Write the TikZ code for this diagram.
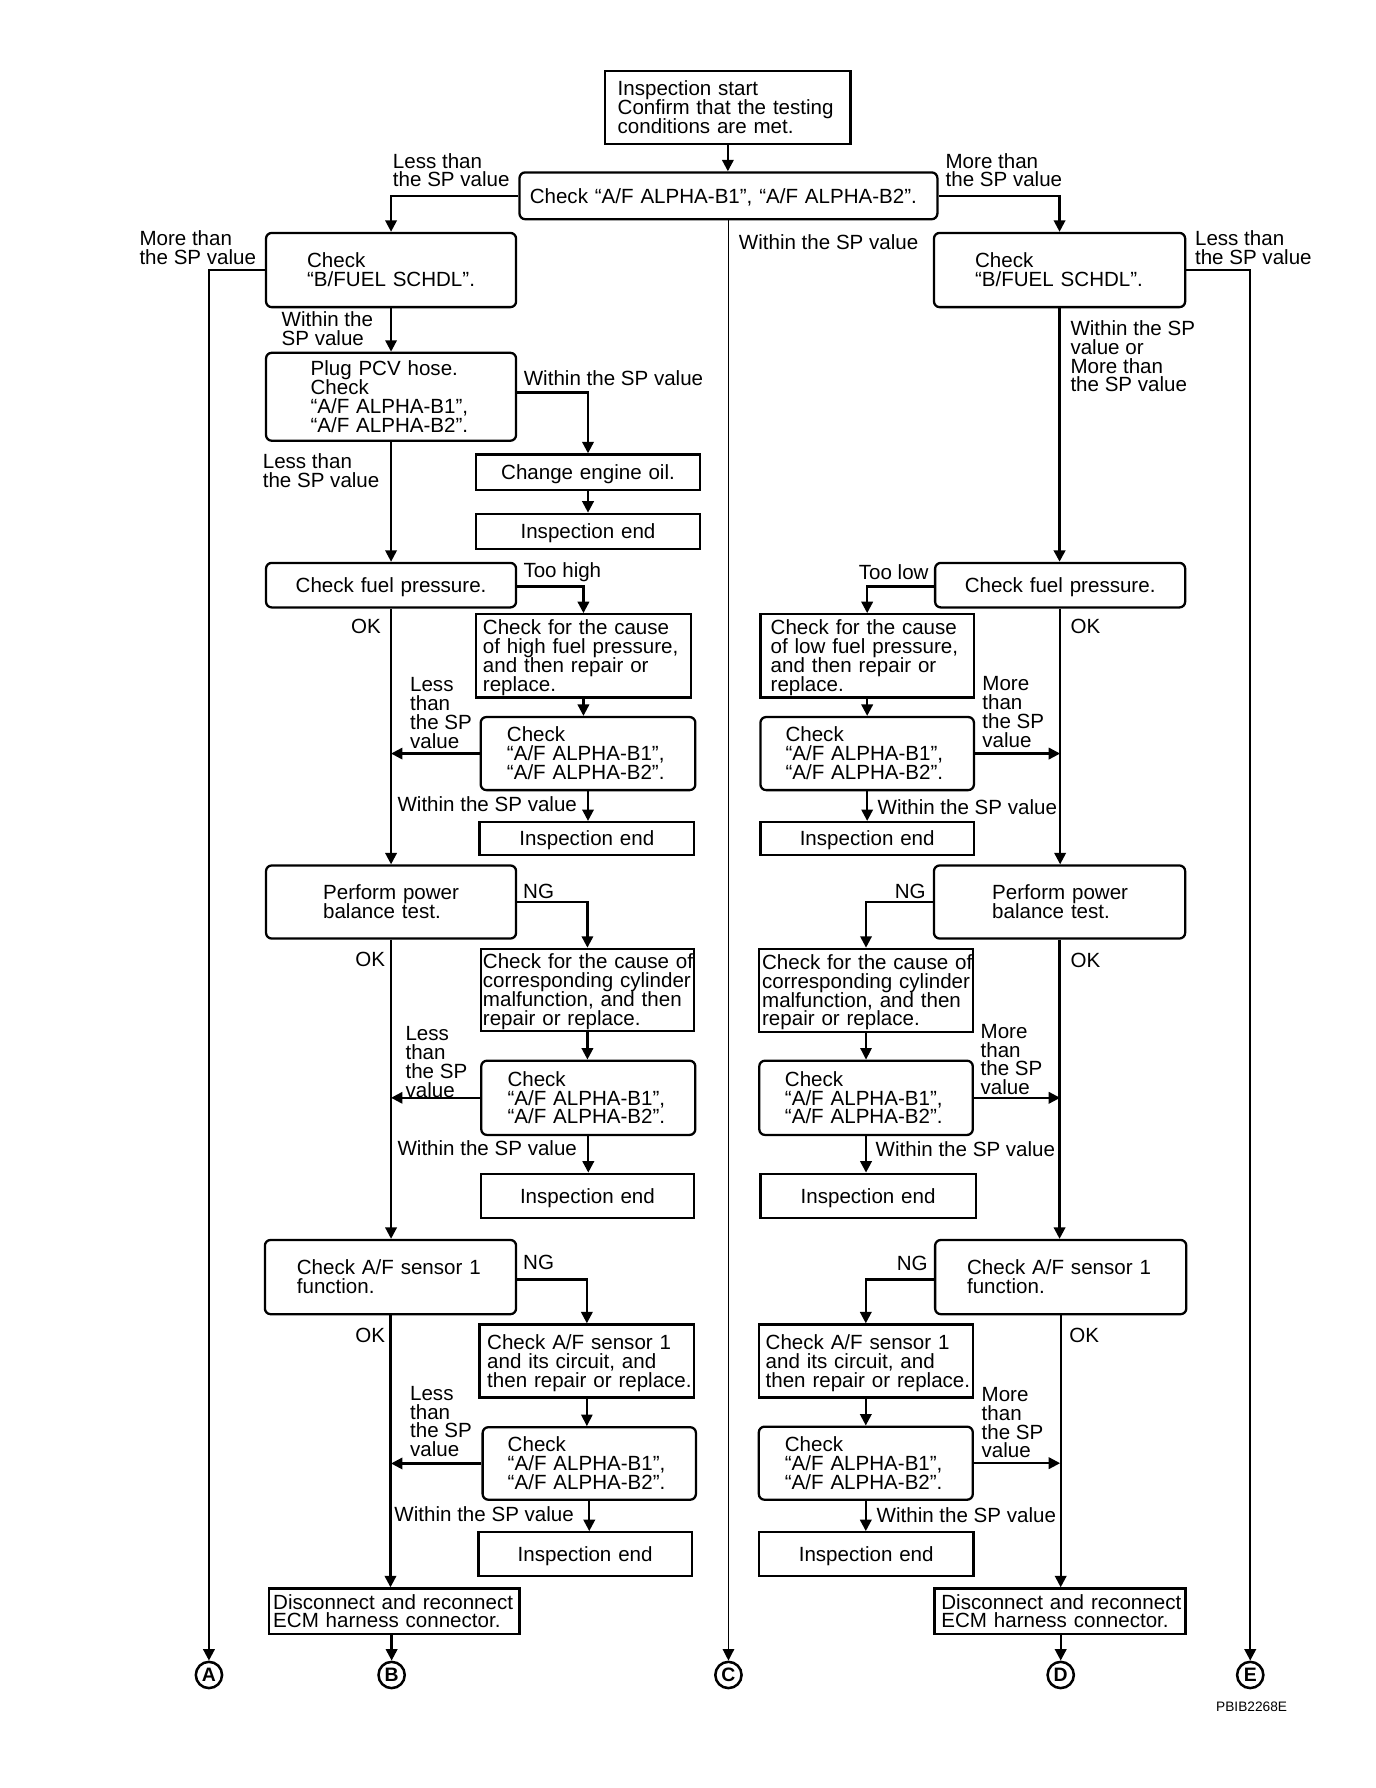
\documentclass[tikz,border=0pt]{standalone}
\usepackage{fontspec}
\usepackage{array}
\setmainfont{Liberation Sans}
\usetikzlibrary{arrows.meta}
\newcommand\fsz{\fontsize{18}{16.5}\selectfont}
\newcolumntype{Z}{>{\setbox0=\hbox\bgroup}l<{\egroup\smash{\box0}}}
\newcommand\flowbox[8]{%
  \pgfmathsetmacro\BoxW{#5-#3}%
  \pgfmathsetmacro\BoxH{#6-#4}%
  \pgfmathsetmacro\BoxT{#5-#3-2*#7}%
  \node[#1, minimum width=\BoxW pt, minimum height=\BoxH pt, text width=\BoxT pt, inner xsep=#7pt] (#2) at ({(#3+#5)/2},{(#4+#6)/2}) {\raisebox{-3pt}[\height][\depth]{\begin{tabular}{@{}Z@{}}#8\end{tabular}}};%
}
\begin{document}
\begin{tikzpicture}[x=1pt,y=-1pt,
  boxbase/.style={draw, line width=2pt, font=\fsz, inner ysep=0pt, align=left},
  rbox/.style={boxbase, rounded corners=5pt},
  sbox/.style={boxbase},
  cbox/.style={boxbase, align=center},
  lbl/.style={font=\fsz, inner sep=0pt, align=left},
  conn/.style={line width=2pt, -{Triangle[length=10pt,width=10pt]}},
  thinline/.style={line width=1.1pt},
  circ/.style={circle, draw, line width=2.2pt, minimum size=23pt, inner sep=0pt, font=\bfseries\fontsize{17}{17}\selectfont}
]
\fill[white] (0,0) rectangle (1205,1566);
\useasboundingbox (0,0) rectangle (1205,1566);

% ---------- boxes ----------
\flowbox{sbox}{start}{530}{62}{745}{126}{11}{Inspection start\\Confirm that the testing\\conditions are met.}
\flowbox{rbox}{chk}{455}{151}{821}{192}{9}{Check “A/F ALPHA-B1”, “A/F ALPHA-B2”.}
\flowbox{rbox}{bfl}{233}{204}{452}{269}{36}{Check\\“B/FUEL SCHDL”.}
\flowbox{rbox}{bfr}{818}{204}{1038}{269}{36}{Check\\“B/FUEL SCHDL”.}
\flowbox{rbox}{plug}{233}{309}{452}{386}{39}{Plug PCV hose.\\Check\\“A/F ALPHA-B1”,\\“A/F ALPHA-B2”.}
\flowbox{cbox}{oil}{417}{398}{613}{429}{5}{Change engine oil.}
\flowbox{cbox}{ie1}{417}{450}{613}{481}{5}{Inspection end}

\flowbox{rbox,align=center}{fpl}{233}{493}{452}{532}{5}{Check fuel pressure.}
\flowbox{rbox,align=center}{fpr}{819}{493}{1038}{532}{5}{Check fuel pressure.}
\flowbox{sbox}{chh}{417}{538}{605}{611}{6}{Check for the cause\\of high fuel pressure,\\and then repair or\\replace.}
\flowbox{sbox}{chl}{666}{538}{853}{611}{9}{Check for the cause\\of low fuel pressure,\\and then repair or\\replace.}
\flowbox{rbox}{cal1}{421}{628}{609}{692}{23}{Check\\“A/F ALPHA-B1”,\\“A/F ALPHA-B2”.}
\flowbox{rbox}{cal4}{666}{628}{853}{692}{22}{Check\\“A/F ALPHA-B1”,\\“A/F ALPHA-B2”.}
\flowbox{cbox}{ie2}{420}{720}{608}{749}{5}{Inspection end}
\flowbox{cbox}{ie5}{666}{720}{853}{749}{5}{Inspection end}

\flowbox{rbox}{pbl}{233}{758}{452}{822}{50}{Perform power\\balance test.}
\flowbox{rbox}{pbr}{818}{758}{1038}{822}{51}{Perform power\\balance test.}
\flowbox{sbox}{ccl}{421}{831}{608}{903}{2}{Check for the cause of\\corresponding cylinder\\malfunction, and then\\repair or replace.}
\flowbox{sbox}{ccr}{665}{831}{852}{904}{2.5}{Check for the cause of\\corresponding cylinder\\malfunction, and then\\repair or replace.}
\flowbox{rbox}{cal2}{421.5}{929}{609}{994}{23}{Check\\“A/F ALPHA-B1”,\\“A/F ALPHA-B2”.}
\flowbox{rbox}{cal5}{665}{929}{852}{994}{22.5}{Check\\“A/F ALPHA-B1”,\\“A/F ALPHA-B2”.}
\flowbox{cbox}{ie3}{421}{1028}{608}{1067}{5}{Inspection end}
\flowbox{cbox}{ie6}{666}{1028}{854.6}{1067}{5}{Inspection end}

\flowbox{rbox}{afl}{232}{1086}{452}{1151}{28}{Check A/F sensor 1\\function.}
\flowbox{rbox}{afr}{819}{1086}{1039}{1151}{28}{Check A/F sensor 1\\function.}
\flowbox{sbox}{scl}{420}{1160}{608}{1224}{6.7}{Check A/F sensor 1\\and its circuit, and\\then repair or replace.}
\flowbox{sbox}{scr}{664.6}{1160}{852}{1224}{6}{Check A/F sensor 1\\and its circuit, and\\then repair or replace.}
\flowbox{rbox}{cal3}{422.7}{1250}{609.5}{1313.5}{22}{Check\\“A/F ALPHA-B1”,\\“A/F ALPHA-B2”.}
\flowbox{rbox}{cal6}{664.6}{1249.5}{852}{1313.5}{22.8}{Check\\“A/F ALPHA-B1”,\\“A/F ALPHA-B2”.}
\flowbox{cbox}{ie4}{419}{1342}{606}{1380.6}{5}{Inspection end}
\flowbox{cbox}{ie7}{664.6}{1342}{852.7}{1380.6}{5}{Inspection end}
\flowbox{sbox,line width=2.4pt}{dcl}{235.5}{1391.4}{455.3}{1431}{3.8}{Disconnect and reconnect\\ECM harness connector.}
\flowbox{sbox,line width=2.4pt}{dcr}{818.5}{1391.4}{1038.5}{1431}{6}{Disconnect and reconnect\\ECM harness connector.}

% ---------- circles ----------
\node[circ] (A) at (183,1467) {A};
\node[circ] (B) at (343,1467) {B};
\node[circ] (C) at (638,1467) {C};
\node[circ] (D) at (929,1467) {D};
\node[circ] (E) at (1095,1467) {E};

% ---------- labels ----------
\node[lbl,anchor=west] (l1) at (344,149) {Less than\\the SP value};
\node[lbl,anchor=west] (l2) at (828,149) {More than\\the SP value};
\node[lbl,anchor=west] (l3) at (647,212.5) {Within the SP value};
\node[lbl,anchor=west] (l4) at (122,217) {More than\\the SP value};
\node[lbl,anchor=west] (l5) at (1046.5,217) {Less than\\the SP value};
\node[lbl,anchor=west] (l6) at (246.5,288) {Within the\\SP value};
\node[lbl,anchor=west] (l7) at (937.4,312) {Within the SP\\value or\\More than\\the SP value};
\node[lbl,anchor=west] (l8) at (458.6,331.5) {Within the SP value};
\node[lbl,anchor=west] (l9) at (230,412.5) {Less than\\the SP value};
\node[lbl,anchor=west] (l10) at (458.3,501) {Too high};
\node[lbl,anchor=east] (l11) at (813.5,501) {Too low};
\node[lbl,anchor=west] (l12) at (307.4,549) {OK};
\node[lbl,anchor=west] (l13) at (937.5,549) {OK};
\node[lbl,anchor=west] (l14) at (359,624.5) {Less\\than\\the SP\\value};
\node[lbl,anchor=west] (l15) at (860.2,623.5) {More\\than\\the SP\\value};
\node[lbl,anchor=west] (l16) at (348,704.5) {Within the SP value};
\node[lbl,anchor=west] (l17) at (768.5,706.5) {Within the SP value};
\node[lbl,anchor=west] (l18) at (458,781) {NG};
\node[lbl,anchor=east] (l19) at (810.9,781) {NG};
\node[lbl,anchor=west] (l20) at (311,840.6) {OK};
\node[lbl,anchor=west] (l21) at (937.5,841.5) {OK};
\node[lbl,anchor=west] (l22) at (355,930) {Less\\than\\the SP\\value};
\node[lbl,anchor=west] (l23) at (858.7,928) {More\\than\\the SP\\value};
\node[lbl,anchor=west] (l24) at (348,1005.5) {Within the SP value};
\node[lbl,anchor=west] (l25) at (766.8,1006.5) {Within the SP value};
\node[lbl,anchor=west] (l26) at (458,1106) {NG};
\node[lbl,anchor=east] (l27) at (812.6,1106.6) {NG};
\node[lbl,anchor=west] (l28) at (311,1170) {OK};
\node[lbl,anchor=west] (l29) at (936.4,1170) {OK};
\node[lbl,anchor=west] (l30) at (359,1245) {Less\\than\\the SP\\value};
\node[lbl,anchor=west] (l31) at (859.6,1246) {More\\than\\the SP\\value};
\node[lbl,anchor=west] (l32) at (345.3,1326.5) {Within the SP value};
\node[lbl,anchor=west] (l33) at (767.6,1327) {Within the SP value};
\node[inner sep=0pt,anchor=west,font=\fontsize{12}{12}\selectfont] (code) at (1065,1495) {PBIB2268E};

% ---------- connectors ----------
\draw[conn] (start.south) -- (start.south |- chk.north);
\draw[conn] (chk.west) -| (bfl.north);
\draw[conn] (chk.east) -| (bfr.north);
\draw[conn,thinline] (chk.south) -- (C.north);
\draw[conn] (bfl.west) -| (A.north);
\draw[conn] (bfr.east) -| (E.north);

% left column
\draw[conn] (bfl.south) -- (plug.north);
\draw[conn] ([yshift=3.8pt]plug.east) -| (oil.north);
\draw[conn] (oil.south) -- (ie1.north);
\draw[conn] (plug.south) -- (fpl.north);
\draw[conn] ([yshift=-1.2pt]fpl.east) -| (chh.north);
\draw[conn] (chh.south) -- (chh.south |- cal1.north);
\draw[conn] (cal1.west) -- (cal1.west -| fpl.south);
\draw[conn] (cal1.south) -- (cal1.south |- ie2.north);
\draw[conn] (fpl.south) -- (pbl.north);
\draw[conn] (pbl.east) -| (ccl.north);
\draw[conn] (ccl.south) -- (ccl.south |- cal2.north);
\draw[conn] (cal2.west) -- (cal2.west -| fpl.south);
\draw[conn] (cal2.south) -- (cal2.south |- ie3.north);
\draw[conn] (pbl.south) -- (pbl.south |- afl.north);
\draw[conn] ([yshift=-2pt]afl.east) -| (scl.north);
\draw[conn,thinline] (scl.south) -- (scl.south |- cal3.north);
\draw[conn] (cal3.west) -- (cal3.west -| fpl.south);
\draw[conn] (cal3.south) -- (cal3.south |- ie4.north);
\draw[conn] (afl.south) -- (afl.south |- dcl.north);
\draw[conn] (B.north |- dcl.south) -- (B.north);

% right column
\draw[conn,line width=2.6pt] (bfr.south) -- (bfr.south |- fpr.north);
\draw[conn] ([yshift=-1.2pt]fpr.west) -| (chl.north);
\draw[conn] (chl.south) -- (chl.south |- cal4.north);
\draw[conn] (cal4.east) -- (cal4.east -| fpr.south);
\draw[conn] (cal4.south) -- (cal4.south |- ie5.north);
\draw[conn] (fpr.south) -- (fpr.south |- pbr.north);
\draw[conn] (pbr.west) -| (ccr.north);
\draw[conn,thinline] (ccr.south) -- (ccr.south |- cal5.north);
\draw[conn] (cal5.east) -- (cal5.east -| fpr.south);
\draw[conn] (cal5.south) -- (cal5.south |- ie6.north);
\draw[conn] (pbr.south) -- (pbr.south |- afr.north);
\draw[conn] ([yshift=-2pt]afr.west) -| (scr.north);
\draw[conn] (scr.south) -- (scr.south |- cal6.north);
\draw[conn] (cal6.east) -- (cal6.east -| fpr.south);
\draw[conn] (cal6.south) -- (cal6.south |- ie7.north);
\draw[conn] (afr.south) -- (afr.south |- dcr.north);
\draw[conn] (D.north |- dcr.south) -- (D.north);
\end{tikzpicture}
\end{document}
